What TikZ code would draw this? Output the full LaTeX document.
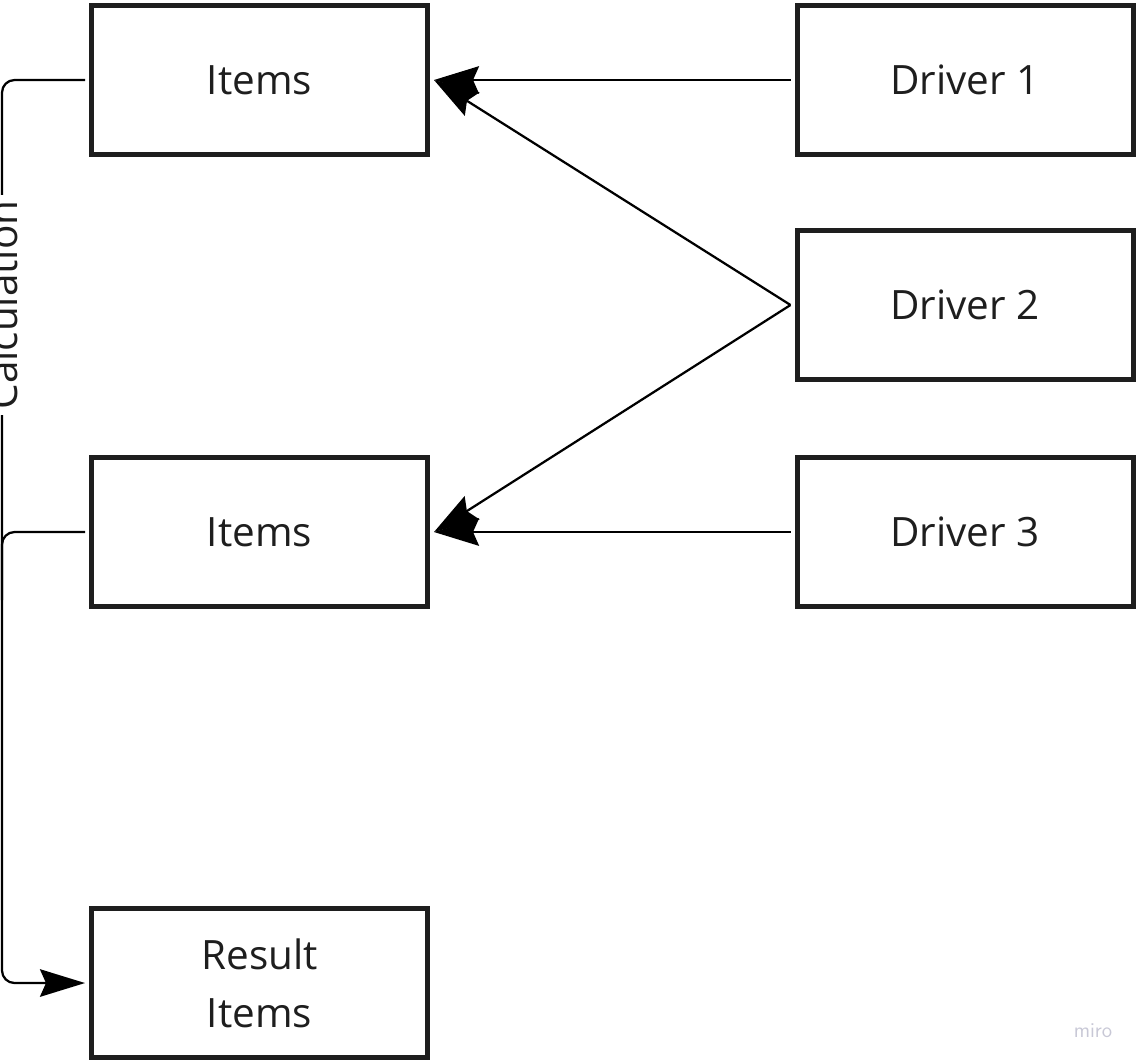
\documentclass[tikz,border=0pt]{standalone}
\usepackage{fontspec}
\setmainfont{Open Sans}
\usetikzlibrary{positioning,arrows.meta}
\definecolor{ink}{HTML}{1E1E1E}
\definecolor{mirogray}{HTML}{C8C8D6}

\begin{document}
\begin{tikzpicture}[
      box/.style={draw=ink,line width=0.1cm,minimum width=6.72cm,minimum height=2.98cm,
        outer sep=0.13cm,text=ink,align=center,font=\fontsize{23}{33}\selectfont},
      conn/.style={line width=0.045cm,-{Stealth[length=0.9cm,width=0.55cm,inset=0.12cm]}}]
    \useasboundingbox (0,0) rectangle (22.76,-21.26);
    \node[box] (items1) at (5.19,-1.60) {Items};
    \node[box] (items2) at (5.19,-10.64) {Items};
    \node[box] (result) at (5.19,-19.66) {Result\\Items};
    \node[box] (drv1) at (19.30,-1.60) {Driver 1};
    \node[box] (drv2) at (19.30,-6.10) {Driver 2};
    \node[box] (drv3) at (19.30,-10.64) {Driver 3};
    \coordinate (rail) at (0.04,-19.66);
    \draw[conn] (drv1) -- (items1);
    \draw[conn] (drv2.west) -- (items1.east);
    \draw[conn] (drv2.west) -- (items2.east);
    \draw[conn] (drv3) -- (items2);
    \draw[conn,rounded corners=0.25cm] (items1.west) -| (rail) -- (result.west);
    \draw[line width=0.045cm,rounded corners=0.25cm] (items2.west) -| (0.04,-12);
    \node[rotate=90,fill=white,text=ink,font=\fontsize{23}{28}\selectfont] (calc) at (0.04,-6.10) {Calculation};
    \node[text=mirogray,font=\sffamily\fontsize{12}{14}\selectfont] (watermark) at (21.86,-20.62) {miro};
  \end{tikzpicture}
\end{document}
